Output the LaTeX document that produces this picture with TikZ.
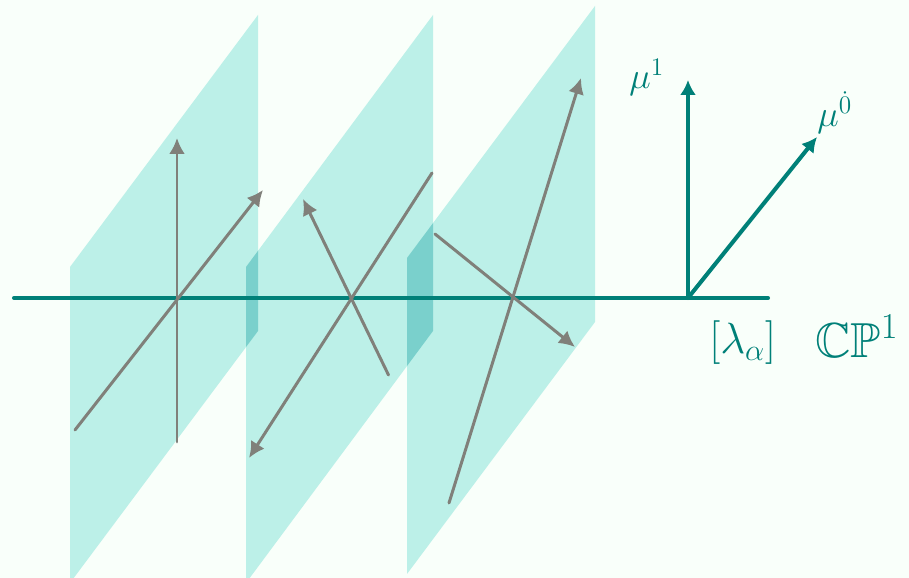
\documentclass[tikz,border=0pt]{standalone}
\usepackage{amssymb}
\usepackage{tkz-euclide}
\usetikzlibrary{arrows.meta,calc}
\definecolor{BackClr}{RGB}{249,255,250}
\definecolor{PlaneClr}{RGB}{188,240,232}
\definecolor{OverlapClr}{RGB}{122,208,204}
\definecolor{AxisClr}{RGB}{0,128,120}
\definecolor{VecClr}{RGB}{128,128,122}

\begin{document}
\begin{tikzpicture}[
  vec/.style={line width=1.7pt,color=VecClr,-{Latex[length=3.2mm,width=3.2mm]}},
  axis/.style={line width=2.3pt,color=AxisClr},
  lbl/.style={text=AxisClr,inner sep=0pt,anchor=base west}]

\tkzDefPoints{0/0/SW,18.18/11.56/NE}
\useasboundingbox (SW) rectangle (NE);
\fill[BackClr] (SW) rectangle (NE);

% the three fibres
\tkzDefPoints{1.40/-0.10/A1,5.16/4.94/B1,5.16/11.26/C1,1.40/6.22/D1}
\tkzDefPoints{4.92/-0.10/A2,8.66/4.94/B2,8.66/11.26/C2,4.92/6.22/D2}
\tkzDefPoints{8.14/0.08/A3,11.90/5.12/B3,11.90/11.44/C3,8.14/6.40/D3}

\tkzFillPolygon[fill=PlaneClr](A1,B1,C1,D1)
\tkzFillPolygon[fill=PlaneClr](A2,B2,C2,D2)
\tkzFillPolygon[fill=PlaneClr](A3,B3,C3,D3)

\begin{scope}
\tkzClipPolygon(A1,B1,C1,D1)
\tkzFillPolygon[fill=OverlapClr](A2,B2,C2,D2)
\end{scope}
\begin{scope}
\tkzClipPolygon(A2,B2,C2,D2)
\tkzFillPolygon[fill=OverlapClr](A3,B3,C3,D3)
\end{scope}

% base line
\tkzDefPoints{0.28/5.60/L,15.36/5.60/R}
\tkzDrawSegment[axis](L,R)

% vectors in each fibre
\tkzDefPoints{3.54/2.72/E1,3.54/8.80/F1,1.50/2.96/G1,5.26/7.76/H1}
\tkzDefPoints{7.77/4.06/E2,6.06/7.58/F2,8.64/8.10/G2,4.98/2.40/H2}
\tkzDefPoints{8.70/6.88/E3,11.50/4.62/F3,8.98/1.50/G3,11.62/10.00/H3}
\tkzDrawSegments[vec](E1,F1 G1,H1 E2,F2 G2,H2 E3,F3 G3,H3)

% coordinates mu
\tkzDefPoints{13.76/5.60/P,13.76/9.96/M1,16.34/8.82/M0}
\tkzDrawSegments[axis,-{Latex[length=3mm,width=3.2mm]}](P,M1 P,M0)

\node[lbl,font=\fontsize{22}{26}\selectfont] (mu1) at (12.58,9.78) {$\mu^{1}$};
\node[lbl,font=\fontsize{22}{26}\selectfont] (mu0) at (16.34,9.02) {$\mu^{\dot 0}$};
\node[lbl,font=\fontsize{27}{32}\selectfont] (lam) at (14.18,4.48) {$[\lambda_\alpha]$};
\node[lbl,font=\fontsize{28}{33}\selectfont] (cp) at (16.30,4.40) {$\mathbb{CP}^1$};

\end{tikzpicture}
\end{document}
